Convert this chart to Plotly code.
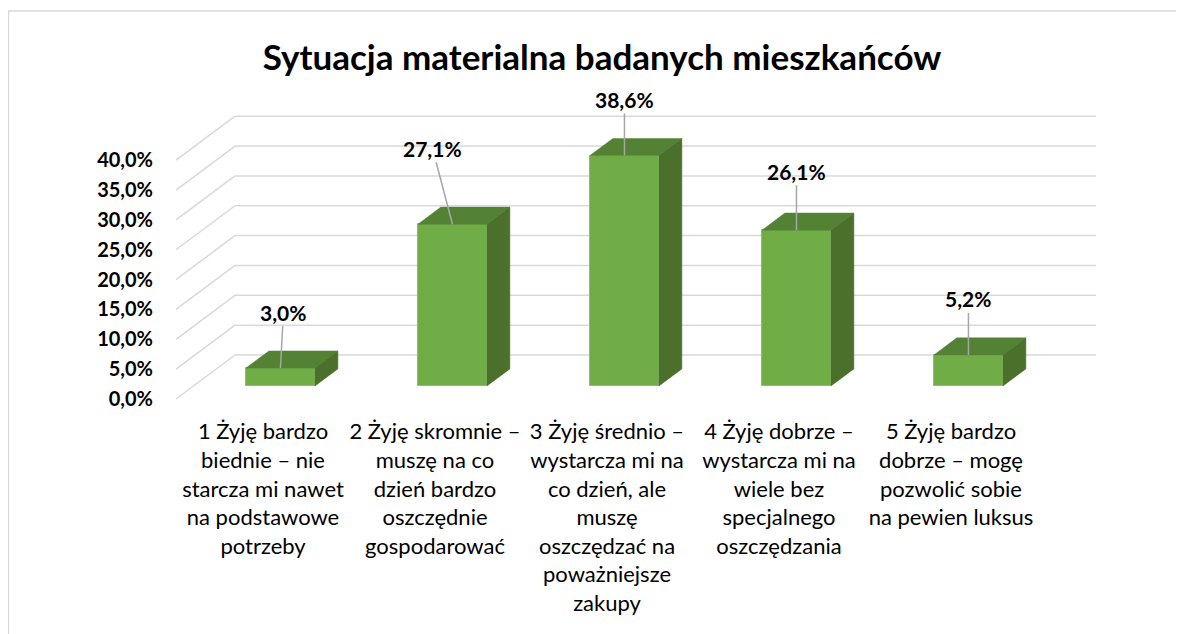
import plotly.graph_objects as go

# ---------------- data ----------------
categories = [
    "1 Żyję bardzo<br>biednie – nie<br>starcza mi nawet<br>na podstawowe<br>potrzeby",
    "2 Żyję skromnie –<br>muszę na co<br>dzień bardzo<br>oszczędnie<br>gospodarować",
    "3 Żyję średnio –<br>wystarcza mi na<br>co dzień, ale<br>muszę<br>oszczędzać na<br>poważniejsze<br>zakupy",
    "4 Żyję dobrze –<br>wystarcza mi na<br>wiele bez<br>specjalnego<br>oszczędzania",
    "5 Żyję bardzo<br>dobrze – mogę<br>pozwolić sobie<br>na pewien luksus",
]
values = [3.0, 27.1, 38.6, 26.1, 5.2]
value_labels = ["3,0%", "27,1%", "38,6%", "26,1%", "5,2%"]
y_ticks = [0, 5, 10, 15, 20, 25, 30, 35, 40]
y_tick_labels = ["0,0%", "5,0%", "10,0%", "15,0%", "20,0%", "25,0%", "30,0%", "35,0%", "40,0%"]
title_text = "Sytuacja materialna badanych mieszkańców"

# ---------------- layout geometry (pixels) ----------------
W, H = 1184, 634
OFF = 8                       # page offset of the figure in the window
PX_PER_CAT = 172.0            # horizontal pixels per category
X0_PX = 263.0 - OFF           # pixel x of category 0 on the front plane
Y0_PX = 399.0 - OFF           # pixel y of 0 % on the front plane
PX_PER_UNIT = 5.97            # pixels per 1 %
L_PX, R_PX, T_PX, B_PX = 168 - OFF, 1110 - OFF, 60 - OFF, 406 - OFF


def px_to_x(p):
    return (p - X0_PX) / PX_PER_CAT


def py_to_y(p):
    return (Y0_PX - p) / PX_PER_UNIT


DX = 59.0 / PX_PER_CAT      # full wall depth in x units
DY = 44.0 / PX_PER_UNIT     # full wall depth in y units
F1, F2 = 0.296, 0.684       # bar front / back depth fractions
BAR_W = 69.0 / PX_PER_CAT
GRID_X_LEFT = px_to_x(176 - OFF)
GRID_X_RIGHT = px_to_x(1096 - OFF)

FRONT = "#70AD47"
TOP = "#548235"
SIDE = "#4A702C"
EDGE = "#8CC168"
GRID = "#D9D9D9"
FONT = "Lato"

fig = go.Figure()

# front faces of bars
n = len(values)
xs_front = [i + F1 * DX for i in range(n)]
fig.add_trace(go.Bar(
    x=xs_front, y=values, base=F1 * DY, width=BAR_W,
    marker=dict(color=FRONT, line=dict(color=EDGE, width=1)),
    hoverinfo="skip", showlegend=False,
))

# top and side faces (oblique projection computed from the values)
dDX = (F2 - F1) * DX
dDY = (F2 - F1) * DY
for i, v in enumerate(values):
    xl = xs_front[i] - BAR_W / 2
    xr = xs_front[i] + BAR_W / 2
    base = F1 * DY
    top = v + base
    fig.add_trace(go.Scatter(
        x=[xl, xr, xr + dDX, xl + dDX, xl],
        y=[top, top, top + dDY, top + dDY, top],
        fill="toself", fillcolor=TOP, mode="lines",
        line=dict(color=TOP, width=0.5), hoverinfo="skip", showlegend=False,
    ))
    fig.add_trace(go.Scatter(
        x=[xr, xr, xr + dDX, xr + dDX, xr],
        y=[base, top, top + dDY, base + dDY, base],
        fill="toself", fillcolor=SIDE, mode="lines",
        line=dict(color=SIDE, width=0.5), hoverinfo="skip", showlegend=False,
    ))

# gridlines: side wall diagonals + back wall horizontals
shapes = []
for t in y_ticks:
    shapes.append(dict(type="line", xref="x", yref="y", layer="below",
                       x0=GRID_X_LEFT, y0=t, x1=GRID_X_LEFT + DX, y1=t + DY,
                       line=dict(color=GRID, width=1.5)))
    shapes.append(dict(type="line", xref="x", yref="y", layer="below",
                       x0=GRID_X_LEFT + DX, y0=t + DY, x1=GRID_X_RIGHT, y1=t + DY,
                       line=dict(color=GRID, width=1.5)))

# chart border
plot_w = R_PX - L_PX
plot_h = B_PX - T_PX
shapes.append(dict(type="rect", xref="paper", yref="paper", layer="below",
                   x0=(0.5 - L_PX) / plot_w, x1=(1300 - L_PX) / plot_w,
                   y0=(B_PX - 700) / plot_h, y1=(B_PX - (11 - OFF)) / plot_h,
                   line=dict(color=GRID, width=1.5), fillcolor="rgba(0,0,0,0)"))

# data labels with leader lines
label_offsets = [(3, -56), (-20, -76), (0, -56), (0, -59), (0, -56)]
annotations = []
for i, v in enumerate(values):
    ax, ay = label_offsets[i]
    annotations.append(dict(
        x=xs_front[i], y=v + F1 * DY, xref="x", yref="y",
        text=value_labels[i], showarrow=True, arrowhead=0,
        arrowwidth=1.5, arrowcolor="#A6A6A6", ax=ax, ay=ay,
        standoff=0, startstandoff=0,
        font=dict(family=FONT, size=21, color="#000000", weight="bold"),
    ))

fig.update_layout(
    width=W, height=H,
    paper_bgcolor="white", plot_bgcolor="white",
    margin=dict(l=L_PX, r=W - R_PX, t=T_PX, b=H - B_PX, pad=0),
    title=dict(text=title_text, x=(602 - OFF) / W, y=1 - (58 - OFF) / H,
               xanchor="center", yanchor="middle", xref="container", yref="container",
               font=dict(family=FONT, size=35, color="#000000", weight="bold")),
    shapes=shapes, annotations=annotations, showlegend=False,
    bargap=0,
)
fig.update_xaxes(
    range=[px_to_x(L_PX), px_to_x(R_PX)],
    tickmode="array", tickvals=list(range(n)), ticktext=categories,
    tickfont=dict(family=FONT, size=22, color="#000000"),
    ticks="outside", ticklen=6, tickcolor="rgba(0,0,0,0)",
    showgrid=False, zeroline=False, showline=False, fixedrange=True,
)
fig.update_yaxes(
    range=[py_to_y(B_PX), py_to_y(T_PX)],
    tickmode="array", tickvals=y_ticks, ticktext=y_tick_labels,
    tickfont=dict(family=FONT, size=20, color="#000000", weight="bold"),
    ticks="outside", ticklen=10, tickcolor="rgba(0,0,0,0)",
    showgrid=False, zeroline=False, showline=False, fixedrange=True,
)

fig.write_html("out.html")
